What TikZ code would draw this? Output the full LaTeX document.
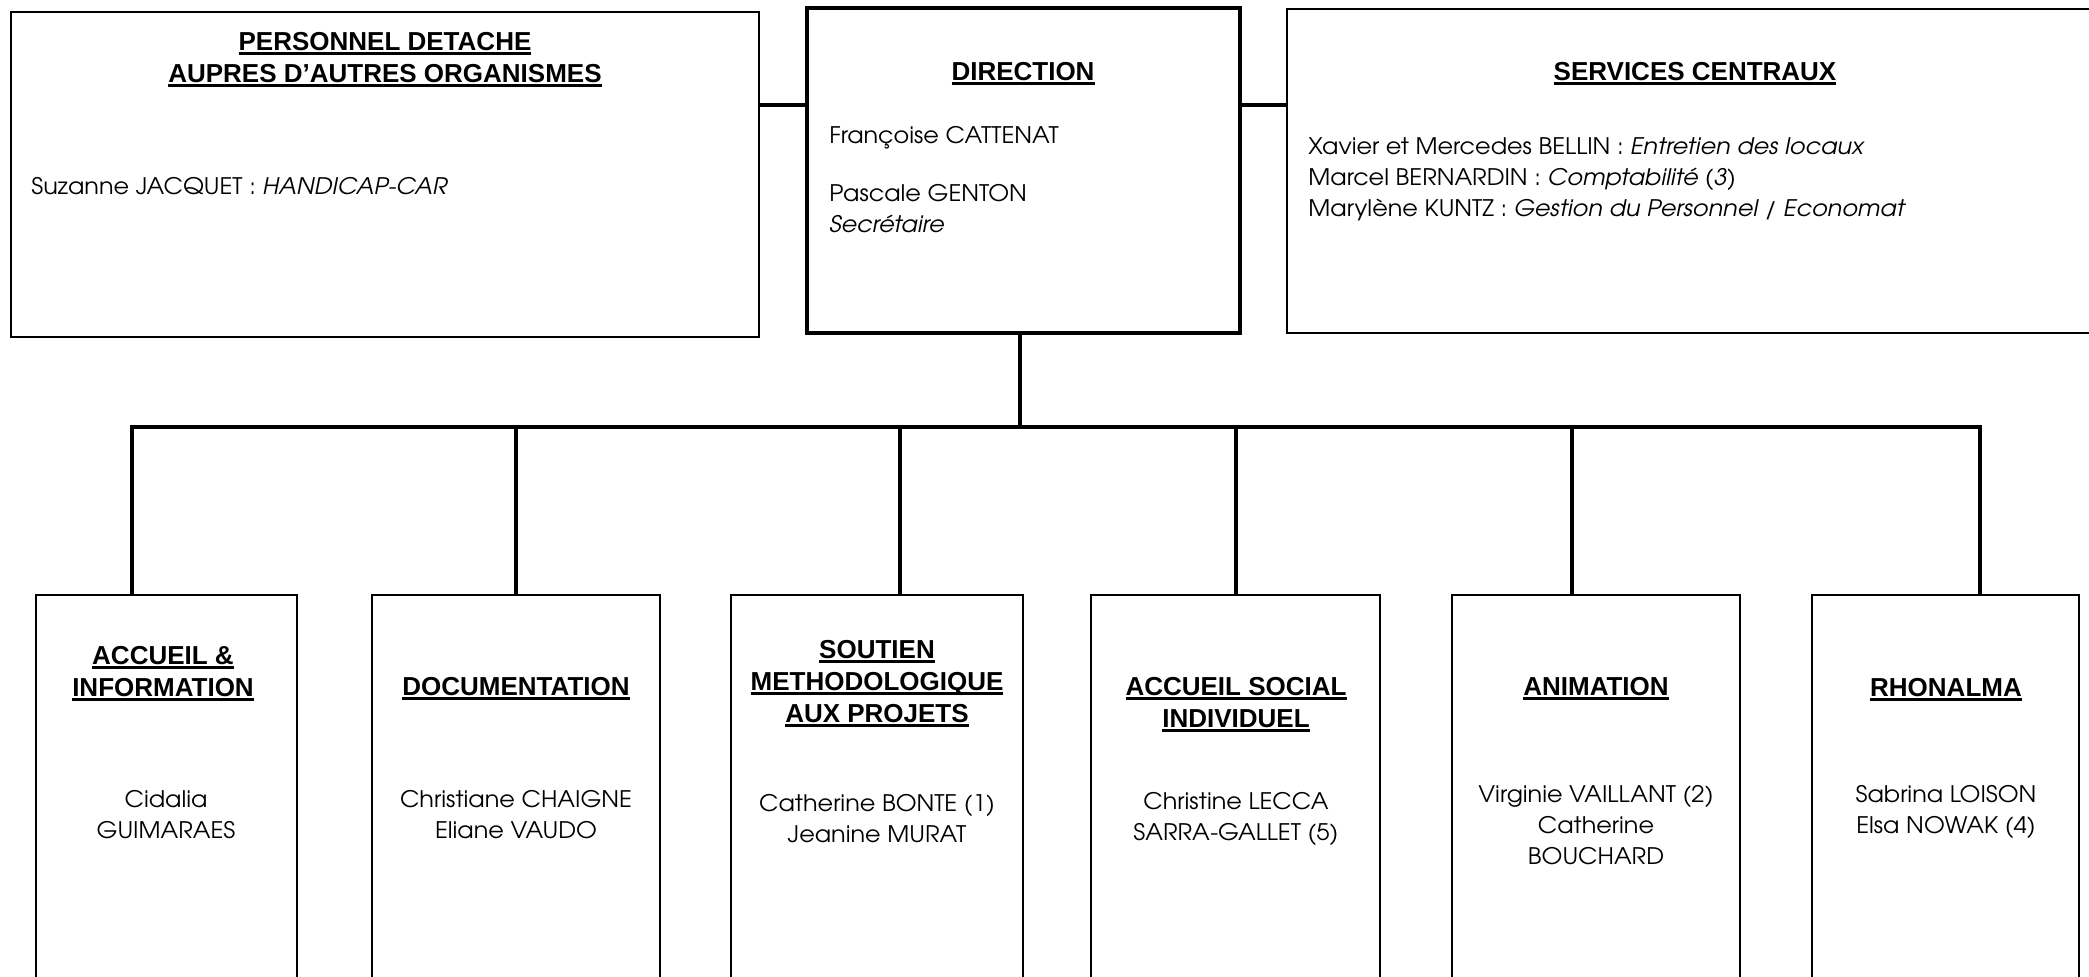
\documentclass[tikz,border=0pt]{standalone}
\usepackage{fontspec}
\setmainfont{TeX Gyre Adventor}[FakeStretch=1.05]
\newfontfamily\headfont{Liberation Sans}
\usetikzlibrary{calc}
\newcommand\hul[1]{\setbox0=\hbox{#1}\rlap{\rule[-2.6pt]{\wd0}{1.5pt}}\box0}

\begin{document}
\begin{tikzpicture}[x=0.5pt, y=-0.5pt,
		box/.style={draw, line width=1pt, inner sep=0pt},
		link/.style={line width=1.75pt},
		head/.style={font=\headfont\bfseries\fontsize{13}{16}\selectfont, align=center, anchor=base, inner sep=0pt},
		body/.style={font=\fontsize{11.4}{15.5}\selectfont, inner sep=0pt}]
			\useasboundingbox (0,0) rectangle (2089,976);

			\node[box, minimum width=374pt, minimum height=162.5pt] (detache) at (385,174.5) {};
			\node[box, line width=2pt, minimum width=216.5pt, minimum height=162.5pt] (direction) at (1023.5,170.5) {};
			\node[box, minimum width=407pt, minimum height=162pt] (services) at (1694,171) {};

			\node[box, minimum width=130.5pt, minimum height=202.5pt] (accueil) at (166.5,797.5) {};
			\node[box, minimum width=144pt, minimum height=202.5pt] (doc) at (516,797.5) {};
			\node[box, minimum width=146pt, minimum height=202.5pt] (soutien) at (877,797.5) {};
			\node[box, minimum width=144.5pt, minimum height=202.5pt] (social) at (1235.5,797.5) {};
			\node[box, minimum width=144pt, minimum height=202.5pt] (animation) at (1596,797.5) {};
			\node[box, minimum width=133.5pt, minimum height=202.5pt] (rhonalma) at (1945.5,797.5) {};

			\coordinate (hb) at (0,105);
			\coordinate (d0) at (1020,427);
			\coordinate (d1) at (132,427);
			\coordinate (d2) at (516,427);
			\coordinate (d3) at (900,427);
			\coordinate (d4) at (1236,427);
			\coordinate (d5) at (1572,427);
			\coordinate (d6) at (1980,427);

			\draw[link] (detache.east |- hb) -- (direction.west |- hb);
			\draw[link] (direction.east |- hb) -- (services.west |- hb);
			\draw[link] (d0 |- direction.south) -- (d0);
			\draw[link] (accueil.north -| d1) -- (d1) -- (d6) -- (rhonalma.north -| d6);
			\draw[link] (d2) -- (d2 |- doc.north);
			\draw[link] (d3) -- (d3 |- soutien.north);
			\draw[link] (d4) -- (d4 |- social.north);
			\draw[link] (d5) -- (d5 |- animation.north);

			\node[head] (tdetache) at (385,82) {\hul{PERSONNEL DETACHE}\\\hul{AUPRES D’AUTRES ORGANISMES}};
			\node[body, anchor=base west] (tjacquet) at (31,194) {Suzanne JACQUET : \textit{HANDICAP-CAR}};

			\node[head] (tdirection) at (1023,80) {\hul{DIRECTION}};
			\node[body, anchor=base west] (tcattenat) at (829,143) {Françoise CATTENAT};
			\node[body, anchor=base west, align=left] (tgenton) at (829,232) {Pascale GENTON\\\textit{Secrétaire}};

			\node[head] (tservices) at (1695,80) {\hul{SERVICES CENTRAUX}};
			\node[body, anchor=base west, align=left] (tstaff) at (1308,216) {Xavier et Mercedes BELLIN : \textit{Entretien des locaux}\\Marcel BERNARDIN : \textit{Comptabilité (3)}\\Marylène KUNTZ : \textit{Gestion du Personnel / Economat}};

			\node[head] (taccueil) at (163,696) {\hul{ACCUEIL \&}\\\hul{INFORMATION}};
			\node[body, anchor=base, align=center] (naccueil) at (166,838) {Cidalia\\GUIMARAES};
			\node[head] (tdoc) at (516,695) {\hul{DOCUMENTATION}};
			\node[body, anchor=base, align=center] (ndoc) at (516,838) {Christiane CHAIGNE\\Eliane VAUDO};
			\node[head] (tsoutien) at (877,722) {\hul{SOUTIEN}\\\hul{METHODOLOGIQUE}\\\hul{AUX PROJETS}};
			\node[body, anchor=base, align=center] (nsoutien) at (877,842) {Catherine BONTE (1)\\Jeanine MURAT};
			\node[head] (tsocial) at (1236,727) {\hul{ACCUEIL SOCIAL}\\\hul{INDIVIDUEL}};
			\node[body, anchor=base, align=center] (nsocial) at (1236,840) {Christine LECCA\\SARRA-GALLET (5)};
			\node[head] (tanimation) at (1596,695) {\hul{ANIMATION}};
			\node[body, anchor=base, align=center] (nanimation) at (1596,864) {Virginie VAILLANT (2)\\Catherine\\BOUCHARD};
			\node[head] (trhonalma) at (1946,696) {\hul{RHONALMA}};
			\node[body, anchor=base, align=center] (nrhonalma) at (1946,833) {Sabrina LOISON\\Elsa NOWAK (4)};
\end{tikzpicture}
\end{document}
